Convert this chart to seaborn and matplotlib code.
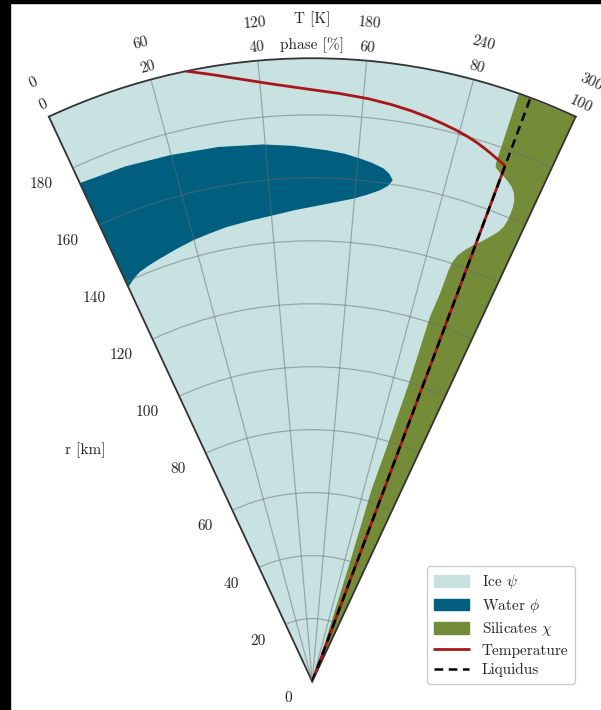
import numpy as np
import matplotlib
matplotlib.use("Agg")
import matplotlib.pyplot as plt
import seaborn as sns
from matplotlib.patches import Patch, Rectangle
from matplotlib.lines import Line2D

# outer radius [km] and temperature span of the angular axis [K]
R_OUT = 198.0
T_SPAN = 300.0

# water fraction phi [%] vs radius [km]
r_water = [138.5, 139.5, 140.4, 141.4, 142.2, 143.0, 144.2, 145.4, 146.2, 147.1,
           147.9, 148.8, 150.1, 151.5, 152.8, 154.1, 155.8, 157.7, 159.5, 161.4,
           163.2, 164.7, 166.0, 167.0, 168.1, 169.0, 170.4, 171.5, 172.6, 173.4,
           174.3, 174.9]
phi_water = [0, 1.3, 2.5, 4.3, 7.0, 10.3, 15.0, 19.8, 24.0, 28.6,
             34.5, 40.3, 46.0, 51.8, 56.0, 59.6, 62.8, 65.6, 67.3, 68.1,
             67.2, 65.7, 63.0, 60.3, 57.0, 53.0, 46.0, 39.5, 30.0, 19.7,
             10.0, 0]

# silicate fraction chi [%] vs radius [km]
r_sil = [0, 40, 64, 78, 100, 122, 130, 137.7, 140.5, 143.1, 145.5, 147.9, 150.0,
         152.2, 154.5, 156.8, 159.2, 161.6, 163.8, 165.9, 167.8, 169.5, 170.6,
         171.6, 172.6, 173.4, 174.5, 175.8, 198]
chi_sil = [15.5, 15.5, 16.0, 15.0, 14.3, 14.4, 13.7, 13.5, 13.2, 12.5, 11.2, 9.6, 8.0,
           6.6, 5.3, 4.5, 4.2, 4.2, 4.3, 4.6, 5.2, 6.2, 7.3,
           8.5, 9.9, 10.8, 11.1, 11.1, 11.4]

# temperature [K] vs radius [km]
r_temp = [0, 174.9, 175, 176, 177, 178, 179, 180, 181, 182, 183, 184, 185, 186,
          187, 188, 189, 190, 191, 192, 193, 194, 195, 196, 197, 198]
T_temp = [273, 273, 272.5, 267.5, 262.5, 257.5, 252, 245.5, 238, 229, 219.5, 209,
          197, 183, 166, 150, 138.5, 129, 121, 114, 107.5, 101.5, 96, 90.5, 85, 80]

# liquidus [K]
r_liq = [0, 198.0]
T_liq = [273, 273]

r_ticks = list(range(0, 200, 20))
phase_ticks = [0, 20, 40, 60, 80, 100]
T_ticks = [0, 60, 120, 180, 240, 300]

ICE = "#c8e2e2"
WATER = "#005f7f"
SIL = "#748c38"
RED = "#a8161a"


def th(phase):
    # phase in % -> polar angle (wedge spans 50 deg)
    return np.deg2rad(np.asarray(phase, dtype=float) * 0.5)


sns.set_theme(style="white")
plt.rcParams["font.family"] = ["cmr10", "DejaVu Serif"]
plt.rcParams["mathtext.fontset"] = "cm"
plt.rcParams["axes.formatter.use_mathtext"] = True
plt.rcParams["axes.unicode_minus"] = False

fig = plt.figure(figsize=(6.01, 7.10), dpi=100)
ax = fig.add_axes([0.6 / 601, -28.2 / 710, 623.3 / 601, 736.6 / 710],
                  projection="polar")
ax.set_theta_offset(np.deg2rad(115))
ax.set_theta_direction(-1)
ax.set_thetamin(0)
ax.set_thetamax(50)
ax.set_ylim(0, R_OUT)
ax.set_axisbelow(False)

# fills: ice background, water from the left, silicates from the right
ax.bar(th(50), R_OUT, width=th(100), bottom=0, color=ICE, linewidth=0, zorder=0.8)
ax.fill_betweenx(r_water, 0, th(phi_water), color=WATER, linewidth=0, zorder=1)
ax.fill_betweenx(r_sil, th(100 - np.array(chi_sil)), th(100), color=SIL,
                 linewidth=0, zorder=1)

sns.lineplot(x=th(np.array(T_temp) / T_SPAN * 100), y=r_temp, estimator=None,
             sort=False, color=RED, linewidth=2.0, ax=ax, zorder=3)
sns.lineplot(x=th(np.array(T_liq) / T_SPAN * 100), y=r_liq, estimator=None,
             sort=False, color="black", linewidth=1.8, ax=ax, zorder=4)
ax.lines[-1].set_linestyle((0, (3.5, 2.2)))

# grid and ticks
ax.set_xticks(th([20, 40, 60, 80]))
ax.set_xticklabels([])
ax.set_yticks(r_ticks)
ax.set_yticklabels([str(v) for v in r_ticks])
ax.grid(True, color="0.42", alpha=0.5, linewidth=0.9)
ax.tick_params(axis="x", direction="in", length=5, width=1, color="0.2")
ax.tick_params(axis="y", direction="out", length=4, width=1, color="0.2",
               labelsize=11, pad=12)
for sp in ax.spines.values():
    sp.set_color("0.2")
    sp.set_linewidth(1.3)
ax.set_xlabel("")
ax.set_ylabel("")

# angular labels: phase row (inner) and temperature row (outer)
for p, tl in zip(phase_ticks, T_ticks):
    rot = 25 - 0.5 * p
    ax.text(th(p), R_OUT * 1.021, str(p), rotation=rot, rotation_mode="anchor",
            ha="center", va="center", fontsize=11)
    ax.text(th(p), R_OUT * 1.060, str(tl), rotation=rot, rotation_mode="anchor",
            ha="center", va="center", fontsize=11)
ax.text(th(50), R_OUT * 1.021, "phase [%]", ha="center", va="center", fontsize=11)
ax.text(th(50), R_OUT * 1.062, "T [K]", ha="center", va="center", fontsize=11)
fig.text(85 / 601, 1 - 450 / 710, "r [km]", ha="center", va="center", fontsize=11)

handles = [Patch(color=ICE), Patch(color=WATER), Patch(color=SIL),
           Line2D([], [], color=RED, lw=2.0),
           Line2D([], [], color="black", lw=1.8, ls=(0, (3.5, 2.2)))]
labels = [r"Ice $\psi$", r"Water $\phi$", r"Silicates $\chi$", "Temperature", "Liquidus"]
ax.legend(handles, labels, loc="lower right",
          bbox_to_anchor=(575 / 601, 1 - 684 / 710), bbox_transform=fig.transFigure,
          fontsize=11, frameon=True, fancybox=True, edgecolor="0.8", framealpha=1,
          handlelength=2.3, handleheight=0.8, labelspacing=0.35, borderpad=0.45,
          handletextpad=0.8, borderaxespad=0)

# dark screenshot border on left and top
fig.add_artist(Rectangle((0, 0), 10 / 601, 1, transform=fig.transFigure,
                         color="black", zorder=10))
fig.add_artist(Rectangle((0, 1 - 3 / 710), 1, 3 / 710, transform=fig.transFigure,
                         color="black", zorder=10))

fig.savefig("out.png", dpi=100)
